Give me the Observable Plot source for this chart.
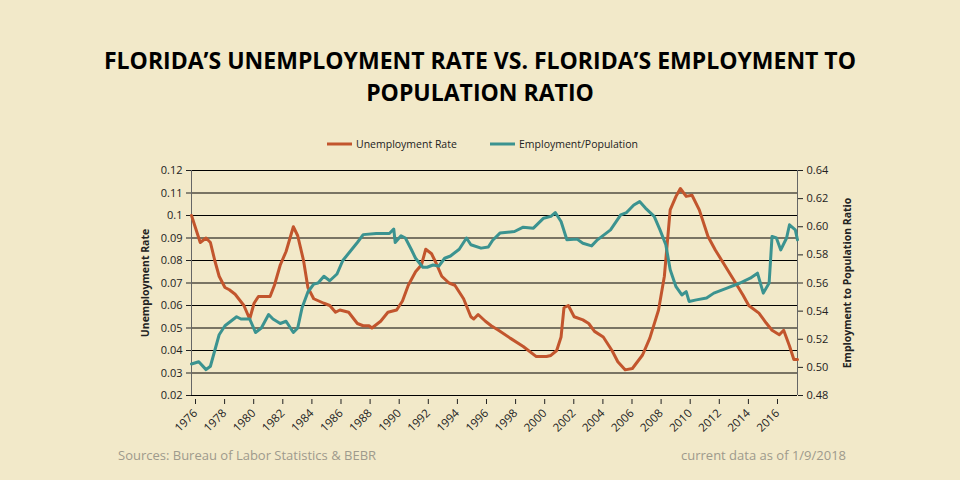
<!DOCTYPE html>
<html><head><meta charset="utf-8">
<script src="https://cdn.jsdelivr.net/npm/d3@7"></script>
<script src="https://cdn.jsdelivr.net/npm/@observablehq/plot@0.6"></script>
<style>
body{margin:0;background:#f2e9c9;font-family:"Open Sans",sans-serif}
#wrap{position:relative;width:960px;height:480px;overflow:hidden}
.t{position:absolute;white-space:nowrap}
</style></head><body><div id="wrap">
<div class="t" style="left:0;width:960px;top:44px;text-align:center;font:bold 23px 'Open Sans',sans-serif;line-height:32px;color:#000">FLORIDA’S UNEMPLOYMENT RATE VS. FLORIDA’S EMPLOYMENT TO<br>POPULATION RATIO</div>
<div class="t" style="left:118px;top:446px;font-size:13px;color:#9e9a8c">Sources: Bureau of Labor Statistics &amp; BEBR</div>
<div class="t" style="left:681px;top:446px;font-size:13px;color:#9e9a8c">current data as of 1/9/2018</div>
</div>
<script>
const unempYear=[1976.0,1976.4,1976.6,1977.0,1977.3,1977.6,1977.9,1978.3,1978.6,1979.0,1979.6,1980.0,1980.3,1980.6,1981.4,1981.7,1982.1,1982.5,1983.0,1983.3,1983.7,1984.0,1984.4,1985.1,1985.5,1985.9,1986.2,1986.8,1987.4,1987.8,1988.2,1988.4,1989.0,1989.5,1990.1,1990.5,1990.9,1991.4,1991.8,1992.1,1992.5,1992.8,1993.2,1993.7,1994.1,1994.7,1995.2,1995.4,1995.7,1996.2,1996.6,1997.1,1997.9,1998.8,1999.7,2000.4,2000.7,2001.1,2001.4,2001.6,2001.9,2002.3,2002.9,2003.3,2003.7,2004.3,2004.9,2005.3,2005.8,2006.3,2007.0,2007.5,2008.1,2008.5,2008.9,2009.3,2009.6,2010.0,2010.4,2010.9,2011.5,2012.0,2012.7,2013.4,2013.9,2014.3,2015.0,2015.5,2015.9,2016.4,2016.7,2017.1,2017.4,2017.65];
const unempRate=[0.100,0.092,0.088,0.090,0.088,0.080,0.073,0.068,0.067,0.065,0.060,0.054,0.061,0.064,0.064,0.069,0.078,0.084,0.095,0.091,0.080,0.068,0.063,0.061,0.060,0.057,0.058,0.057,0.052,0.051,0.051,0.050,0.053,0.057,0.058,0.062,0.069,0.075,0.078,0.085,0.083,0.079,0.073,0.070,0.069,0.063,0.055,0.054,0.056,0.053,0.051,0.049,0.0455,0.0418,0.0373,0.0373,0.0378,0.040,0.046,0.059,0.060,0.055,0.0536,0.052,0.0485,0.046,0.040,0.035,0.0314,0.032,0.038,0.0455,0.058,0.073,0.1025,0.1085,0.112,0.1085,0.109,0.1025,0.0907,0.0847,0.0773,0.070,0.0647,0.060,0.0566,0.0522,0.049,0.047,0.049,0.042,0.036,0.036];
const empYear=[1976.0,1976.5,1977.0,1977.3,1977.6,1977.9,1978.3,1978.7,1979.1,1979.4,1980.0,1980.4,1980.8,1981.3,1981.6,1982.1,1982.5,1983.0,1983.3,1983.6,1984.0,1984.4,1984.7,1985.1,1985.5,1986.0,1986.4,1986.9,1987.4,1987.8,1988.7,1989.6,1989.9,1990.0,1990.4,1990.7,1991.1,1991.4,1991.9,1992.2,1992.6,1993.0,1993.4,1993.8,1994.4,1994.9,1995.2,1995.9,1996.4,1996.7,1997.2,1998.2,1998.8,1999.5,2000.2,2000.7,2001.0,2001.4,2001.8,2002.5,2002.9,2003.5,2003.9,2004.8,2005.5,2005.9,2006.4,2006.8,2007.2,2007.8,2008.2,2008.6,2008.9,2009.3,2009.7,2010.0,2010.2,2010.7,2011.4,2011.9,2012.8,2013.7,2014.4,2014.9,2015.3,2015.7,2015.9,2016.2,2016.5,2016.9,2017.1,2017.5,2017.65];
const empRatio=[0.5024,0.504,0.4984,0.5008,0.512,0.5232,0.5296,0.5328,0.536,0.5344,0.5344,0.5248,0.528,0.5376,0.5344,0.5312,0.5328,0.5248,0.528,0.5424,0.5536,0.5592,0.560,0.5648,0.5616,0.5664,0.576,0.5824,0.5888,0.5944,0.5952,0.5952,0.5984,0.5888,0.5936,0.592,0.584,0.5776,0.5712,0.5712,0.5728,0.572,0.5776,0.5792,0.584,0.592,0.5872,0.5848,0.5856,0.5904,0.5955,0.5966,0.5997,0.599,0.6061,0.6074,0.6101,0.6037,0.5907,0.5912,0.5883,0.5864,0.5907,0.5978,0.6085,0.6101,0.6155,0.6179,0.6133,0.6074,0.5978,0.5872,0.5694,0.5574,0.5515,0.5539,0.5469,0.548,0.5493,0.5528,0.5563,0.560,0.5634,0.567,0.5528,0.560,0.5931,0.592,0.5835,0.592,0.6014,0.5978,0.5907];
const xTicks=d3.range(1976,2017,2);
const leftTicks=[0.02,0.03,0.04,0.05,0.06,0.07,0.08,0.09,0.10,0.11,0.12];
const rightTicks=[0.48,0.50,0.52,0.54,0.56,0.58,0.60,0.62,0.64];
const toLeft=r=>0.02+(r-0.48)/1.6;
const U=unempYear.map((x,i)=>({x,y:unempRate[i]}));
const E=empYear.map((x,i)=>({x,y:toLeft(empRatio[i])}));
const ORANGE="#c2552d",TEAL="#3b9390";
const chart=Plot.plot({
  width:960,height:480,marginTop:170,marginBottom:85,marginLeft:191,marginRight:163,
  style:{background:"transparent",fontFamily:"'Open Sans',sans-serif",fontSize:"11px",color:"#222"},
  x:{domain:[1976,2017.65]},
  y:{domain:[0.02,0.12]},
  marks:[
    Plot.ruleY(leftTicks,{stroke:"#000",strokeWidth:1.2}),
    Plot.ruleX([1976],{stroke:"#666"}),
    Plot.ruleX([2017.65],{stroke:"#666"}),
    Plot.axisX({ticks:xTicks,tickFormat:d=>String(d),tickRotate:-45,tickSize:5,fontSize:11.5,label:null,textAnchor:"end",dx:4,dy:4}),
    Plot.axisY({ticks:leftTicks,tickFormat:d=>d===0.1?"0.1":d3.format(".2f")(d),tickSize:5,label:null,fontSize:11}),
    Plot.axisY({anchor:"right",ticks:rightTicks.map(toLeft),tickFormat:(d,i)=>rightTicks[i].toFixed(2),tickSize:5,label:null,fontSize:11}),
    Plot.line(U,{x:"x",y:"y",stroke:ORANGE,strokeWidth:3,curve:"linear"}),
    Plot.line(E,{x:"x",y:"y",stroke:TEAL,strokeWidth:3,curve:"linear"})
  ]
});
const svg=d3.select(chart);
svg.style("position","absolute").style("left","0").style("top","0");
const g=svg.append("g").attr("font-family","'Open Sans',sans-serif").attr("text-anchor","start");
g.append("text").attr("transform","translate(149,283) rotate(-90)").attr("text-anchor","middle").attr("font-size",10.5).attr("font-weight","bold").text("Unemployment Rate");
g.append("text").attr("transform","translate(851,283) rotate(-90)").attr("text-anchor","middle").attr("font-size",10.5).attr("font-weight","bold").text("Employment to Population Ratio");
const leg=[["Unemployment Rate",ORANGE,327],["Employment/Population",TEAL,490]];
leg.forEach(([t,c,x])=>{
  g.append("line").attr("x1",x).attr("x2",x+25).attr("y1",144).attr("y2",144).attr("stroke",c).attr("stroke-width",3);
  g.append("text").attr("x",x+29).attr("y",148).attr("text-anchor","start").attr("font-size",10.5).attr("fill","#222").text(t);
});
document.getElementById("wrap").appendChild(chart);
</script></body></html>
